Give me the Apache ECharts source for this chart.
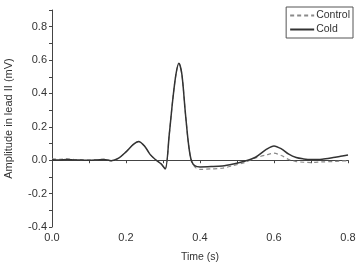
<!DOCTYPE html>
<html>
<head>
<meta charset="utf-8">
<script src="https://cdn.jsdelivr.net/npm/echarts@6/dist/echarts.min.js"></script>
<style>
  html, body { margin: 0; padding: 0; background: #fff; }
  #chart { width: 357px; height: 263px; }
</style>
</head>
<body>
<div id="chart"></div>
<script>
// time points (s)
const time = [0.00, 0.02, 0.04, 0.06, 0.08, 0.10, 0.12, 0.14, 0.16, 0.18, 0.20, 0.22, 0.234, 0.25, 0.265,
  0.28, 0.295, 0.306, 0.317, 0.326, 0.335, 0.343, 0.351, 0.36, 0.369, 0.377, 0.388, 0.40, 0.43, 0.46,
  0.49, 0.52, 0.55, 0.58, 0.60, 0.62, 0.64, 0.66, 0.68, 0.70, 0.73, 0.76, 0.78, 0.80];

// amplitude (mV)
const cold = [0.003, 0.002, 0.004, 0.002, 0.001, 0.000, 0.002, 0.005, -0.003, 0.012, 0.05, 0.095, 0.112, 0.085, 0.035,
  0.003, -0.022, -0.052, 0.156, 0.355, 0.515, 0.581, 0.515, 0.295, 0.096, -0.004, -0.036, -0.04, -0.038, -0.034,
  -0.022, -0.006, 0.018, 0.066, 0.086, 0.068, 0.036, 0.016, 0.008, 0.004, 0.006, 0.016, 0.024, 0.032];
const control = [0.008, 0.006, 0.008, 0.004, 0.002, 0.001, 0.003, 0.006, -0.004, 0.012, 0.05, 0.095, 0.112, 0.085, 0.035,
  0.003, -0.022, -0.052, 0.156, 0.355, 0.515, 0.581, 0.515, 0.295, 0.096, -0.006, -0.044, -0.055, -0.052, -0.048,
  -0.032, -0.014, 0.014, 0.032, 0.042, 0.028, 0.004, -0.008, -0.012, -0.014, -0.01, -0.008, -0.005, -0.004];

const chart = echarts.init(document.getElementById("chart"));
const axisColor = "#444";
const font = "Liberation Sans, Arial, sans-serif";

chart.setOption({
  animation: false,
  grid: { left: 52, right: 9, top: 10, bottom: 36, containLabel: false, outerBoundsMode: "none" },
  legend: {
    orient: "vertical",
    right: 4,
    top: 7,
    padding: [3, 3, 3, 3],
    itemGap: 3,
    itemWidth: 24,
    itemHeight: 8,
    borderColor: "#555",
    borderWidth: 1,
    itemStyle: { opacity: 0 },
    textStyle: { fontFamily: font, fontSize: 10.5, color: "#333", padding: [0, 0, 0, -3] },
    data: ["Control", "Cold"]
  },
  xAxis: {
    type: "value",
    min: 0,
    max: 0.8,
    interval: 0.2,
    name: "Time (s)",
    nameLocation: "middle",
    nameGap: 25,
    nameTextStyle: { fontFamily: font, fontSize: 10.5, color: "#333" },
    axisLine: { lineStyle: { color: axisColor, width: 1 } },
    axisTick: { show: true, length: 3, inside: false, lineStyle: { color: axisColor } },
    minorTick: { show: true, splitNumber: 2, length: 3, lineStyle: { color: axisColor } },
    axisLabel: { fontFamily: font, fontSize: 11, color: "#333", margin: 5, formatter: v => v.toFixed(1) },
    splitLine: { show: false }
  },
  yAxis: {
    type: "value",
    min: -0.4,
    max: 0.9,
    interval: 0.2,
    name: "Amplitude in lead II (mV)",
    nameLocation: "middle",
    nameGap: 38,
    nameTextStyle: { fontFamily: font, fontSize: 11, color: "#333" },
    axisLine: { show: true, lineStyle: { color: axisColor, width: 1 } },
    axisTick: { show: true, length: 3, inside: false, lineStyle: { color: axisColor } },
    minorTick: { show: true, splitNumber: 2, length: 3, lineStyle: { color: axisColor } },
    axisLabel: {
      fontFamily: font, fontSize: 11, color: "#333", margin: 5, showMaxLabel: false,
      formatter: v => (Math.abs(v - 0.9) < 1e-6 ? "" : v.toFixed(1))
    },
    splitLine: { show: false }
  },
  series: [
    {
      name: "Control",
      type: "line",
      symbol: "none",
      smooth: 0.3,
      data: time.map((t, i) => [t, control[i]]),
      lineStyle: { color: "#8a8a8a", width: 1.2, type: [4, 3] },
      itemStyle: { color: "#8a8a8a" },
      z: 2
    },
    {
      name: "Cold",
      type: "line",
      symbol: "none",
      smooth: 0.3,
      data: time.map((t, i) => [t, cold[i]]),
      lineStyle: { color: "#333", width: 1.5 },
      itemStyle: { color: "#333" },
      z: 3
    }
  ]
});
</script>
</body>
</html>
